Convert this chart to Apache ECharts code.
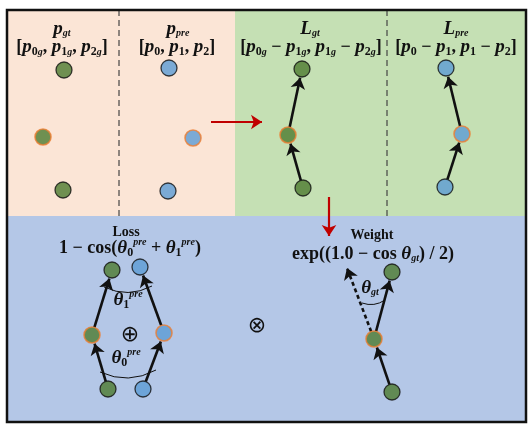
<!DOCTYPE html>
<html><head><meta charset="utf-8">
<script src="https://cdn.jsdelivr.net/npm/echarts@6/dist/echarts.min.js"></script>
<style>html,body{margin:0;padding:0;background:#fff}#c{width:532px;height:426px}</style>
</head><body><div id="c"></div>
<script>
// point positions in the diagram's own coordinate space (x right, y down)
const gtPoints    = [[64,70],[43,137],[63,190]];
const prePoints   = [[169,68],[193,138],[168,191]];
const lgtPoints   = [[302,69],[288,135],[303,188]];
const lprePoints  = [[446,68],[462,134],[445,187]];
const lossGt      = [[112,270],[92,335],[108,389]];
const lossPre     = [[140,267],[164,333],[143,389]];
const weightGt    = [[392,272],[374,339],[392,392]];
const dashedTip   = [347,268];

const GREEN='#4c7a2f', BLUE='#5b9bd5', ORANGE='#ed7d31';
const R=8;

// points: middle one gets the orange rim
function pts(list,color){
  return list.map((p,i)=>({value:p,itemStyle:{color:color,borderColor:i===1?ORANGE:'#111',borderWidth:i===1?1.6:1.3}}));
}
// arrow between two point centres, trimmed to the circle edge
function seg(a,b,ta,tb){
  const dx=b[0]-a[0],dy=b[1]-a[1],L=Math.hypot(dx,dy);
  return [[a[0]+dx/L*ta,a[1]+dy/L*ta],[b[0]-dx/L*tb,b[1]-dy/L*tb]];
}
function chain(list){return [seg(list[2],list[1],R,R+1),seg(list[1],list[0],R,R+1)];}

const arrows=[].concat(chain(lgtPoints),chain(lprePoints),chain(lossGt),chain(lossPre),chain(weightGt));
const redArrows=[[[211,122],[262,122]],[[329,197],[329,236]]];
const arcs=[[[104,287],[152,286]],[[100,372],[156,370]],[[362,303],[385,300]]];

const font='"Liberation Serif","DejaVu Serif",serif';
const rich={
  b:{fontFamily:font,fontWeight:'bold',fontSize:18,color:'#111'},
  i:{fontFamily:font,fontWeight:'bold',fontStyle:'italic',fontSize:19,color:'#111'},
  s:{fontFamily:font,fontWeight:'bold',fontStyle:'italic',fontSize:10,color:'#111',verticalAlign:'bottom',padding:[9,0,0,0]},
  sn:{fontFamily:font,fontWeight:'bold',fontSize:12,color:'#111',verticalAlign:'bottom',padding:[9,0,0,0]},
  u:{fontFamily:font,fontWeight:'bold',fontStyle:'italic',fontSize:10,color:'#111',verticalAlign:'top',padding:[0,0,9,0]}
};
function txt(x,y,t,extra){
  return Object.assign({type:'text',x:x,y:y,z:50,style:{text:t,rich:rich,align:'center',verticalAlign:'middle',font:'bold 15px '+font,fill:'#111'}},extra||{});
}

const chart=echarts.init(document.getElementById('c'));
chart.setOption({
  animation:false,
  grid:{left:0,right:0,top:0,bottom:0},
  xAxis:{type:'value',min:0,max:532,show:false},
  yAxis:{type:'value',min:0,max:426,inverse:true,show:false},
  graphic:[
    {type:'rect',shape:{x:7,y:10,width:228,height:206},style:{fill:'#fbe5d6'},z:-10},
    {type:'rect',shape:{x:235,y:10,width:291,height:206},style:{fill:'#c5e0b4'},z:-10},
    {type:'rect',shape:{x:7,y:216,width:519,height:206},style:{fill:'#b4c7e7'},z:-10},
    {type:'line',shape:{x1:119,y1:10,x2:119,y2:216},style:{stroke:'#444',lineDash:[6,4],lineWidth:1.2},z:-5},
    {type:'line',shape:{x1:387,y1:10,x2:387,y2:216},style:{stroke:'#444',lineDash:[6,4],lineWidth:1.2},z:-5},
    {type:'rect',shape:{x:7,y:10,width:519,height:412},style:{fill:'none',stroke:'#111',lineWidth:2.5},z:60},
    txt(62,29,'{i|p}{s|gt}'),
    txt(62,47,'{b|[}{i|p}{sn|0}{s|g}{b|, }{i|p}{sn|1}{s|g}{b|, }{i|p}{sn|2}{s|g}{b|]}'),
    txt(178,29,'{i|p}{s|pre}'),
    txt(177,47,'{b|[}{i|p}{sn|0}{b|, }{i|p}{sn|1}{b|, }{i|p}{sn|2}{b|]}'),
    txt(310,29,'{i|L}{s|gt}'),
    txt(311,47,'{b|[}{i|p}{sn|0}{s|g}{b| − }{i|p}{sn|1}{s|g}{b|, }{i|p}{sn|1}{s|g}{b| − }{i|p}{sn|2}{s|g}{b|]}'),
    txt(456,29,'{i|L}{s|pre}'),
    txt(456,47,'{b|[}{i|p}{sn|0}{b| − }{i|p}{sn|1}{b|, }{i|p}{sn|1}{b| − }{i|p}{sn|2}{b|]}'),
    txt(126,232,'Loss',{style:{text:'Loss',align:'center',verticalAlign:'middle',font:'bold 14px '+font,fill:'#111'}}),
    txt(130,248,'{b|1 − cos(}{i|θ}{sn|0}{u|pre}{b| + }{i|θ}{sn|1}{u|pre}{b|)}'),
    txt(128,300,'{i|θ}{sn|1}{u|pre}'),
    txt(126,358,'{i|θ}{sn|0}{u|pre}'),
    txt(130,335,'⊕',{style:{text:'⊕',align:'center',verticalAlign:'middle',font:'22px "DejaVu Sans"',fill:'#111'}}),
    txt(257,326,'⊗',{style:{text:'⊗',align:'center',verticalAlign:'middle',font:'22px "DejaVu Sans"',fill:'#111'}}),
    txt(372,235,'Weight',{style:{text:'Weight',align:'center',verticalAlign:'middle',font:'bold 14px '+font,fill:'#111'}}),
    txt(373,254,'{b|exp((1.0 − cos }{i|θ}{s|gt}{b|) / 2)}'),
    txt(370,288,'{i|θ}{s|gt}')
  ],
  series:[
    {type:'lines',coordinateSystem:'cartesian2d',symbol:['none','arrow'],symbolSize:11,
     lineStyle:{color:'#111',width:2.6,opacity:1},data:arrows.map(c=>({coords:c})),z:3},
    {type:'lines',coordinateSystem:'cartesian2d',symbol:['none','arrow'],symbolSize:11,
     lineStyle:{color:'#111',width:2.6,type:[4,3],opacity:1},data:[{coords:seg(weightGt[1],dashedTip,R,0)}],z:3},
    {type:'lines',coordinateSystem:'cartesian2d',symbol:['none','arrow'],symbolSize:11,
     lineStyle:{color:'#c00000',width:2.2,opacity:1},data:redArrows.map(c=>({coords:c})),z:3},
    {type:'lines',coordinateSystem:'cartesian2d',symbol:'none',
     lineStyle:{color:'#111',width:1,curveness:-0.25,opacity:1},data:arcs.map(c=>({coords:c})),z:3},
    {type:'scatter',symbolSize:2*R,z:5,data:[].concat(
      pts(gtPoints,GREEN),pts(prePoints,BLUE),pts(lgtPoints,GREEN),pts(lprePoints,BLUE),
      pts(lossGt,GREEN),pts(lossPre,BLUE),pts(weightGt,GREEN))}
  ]
});
</script></body></html>
